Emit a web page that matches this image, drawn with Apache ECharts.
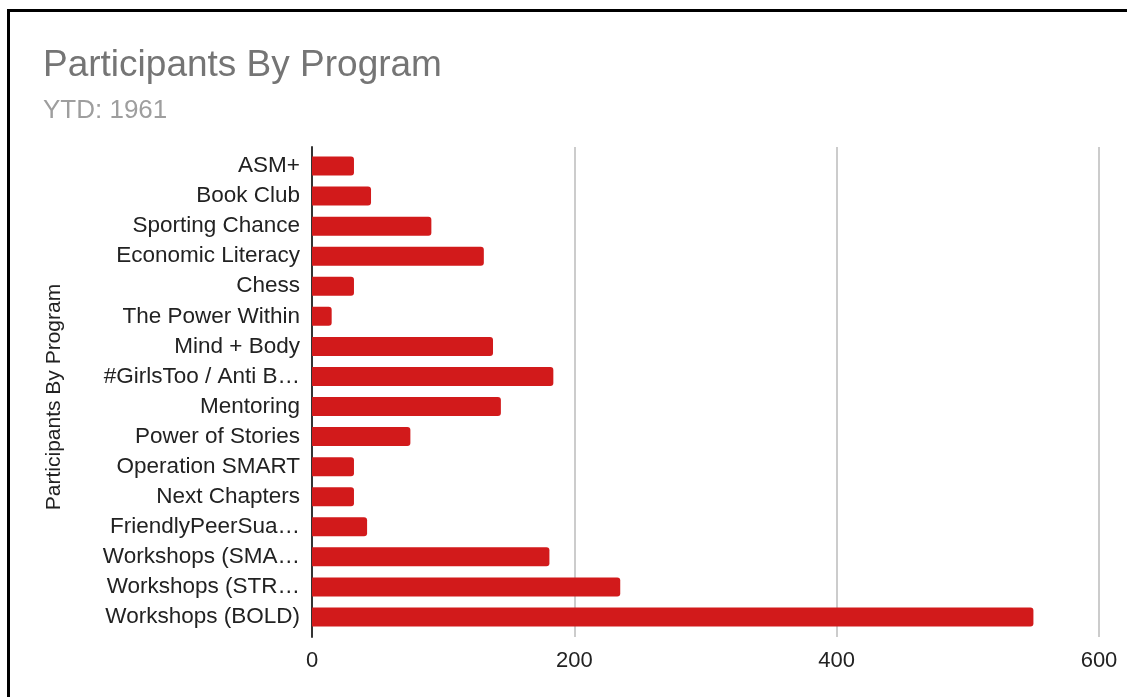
<!DOCTYPE html>
<html>
<head>
<meta charset="utf-8">
<script src="https://cdn.jsdelivr.net/npm/echarts@6/dist/echarts.min.js"></script>
<style>
  html, body { margin: 0; padding: 0; background: #fff; overflow: hidden; }
  #frame { position: absolute; left: 7px; top: 9px; width: 1140px; height: 720px;
           border: 3px solid #000; box-sizing: border-box; }
  #chart { position: absolute; left: 0; top: 0; width: 1127px; height: 697px; }
</style>
</head>
<body>
<div id="frame"></div>
<div id="chart"></div>
<script>
// Programs, top to bottom
const categories = [
  'ASM+', 'Book Club', 'Sporting Chance', 'Economic Literacy', 'Chess',
  'The Power Within', 'Mind + Body', '#GirlsToo / Anti B\u2026', 'Mentoring',
  'Power of Stories', 'Operation SMART', 'Next Chapters', 'FriendlyPeerSua\u2026',
  'Workshops (SMA\u2026', 'Workshops (STR\u2026', 'Workshops (BOLD)'
];
// Participants per program
const participants = [32, 45, 91, 131, 32, 15, 138, 184, 144, 75, 32, 32, 42, 181, 235, 550];
// Value axis ticks
const xTicks = [0, 200, 400, 600];

const titleText = 'Participants By Program';
const subtitleText = 'YTD: 1961';
const axisTitle = 'Participants By Program';

const FONT = 'Arial, "Liberation Sans", sans-serif';
const xMin = xTicks[0], xMax = xTicks[xTicks.length - 1], xStep = xTicks[1] - xTicks[0];

const chart = echarts.init(document.getElementById('chart'), null, { renderer: 'canvas' });
chart.setOption({
  animation: false,
  backgroundColor: 'transparent',
  title: [
    { text: titleText, left: 43, top: 47, padding: 0,
      textStyle: { fontFamily: FONT, fontSize: 37, fontWeight: 'normal', color: '#757575' } },
    { text: subtitleText, left: 43, top: 98, padding: 0,
      textStyle: { fontFamily: FONT, fontSize: 26, fontWeight: 'normal', color: '#9e9e9e' } }
  ],
  graphic: [{
    type: 'text', x: 54, y: 397, rotation: Math.PI / 2,
    style: { text: axisTitle, font: '21px ' + FONT, fill: '#222',
             align: 'center', verticalAlign: 'middle' }
  }],
  grid: [
    // bars
    { left: 312, right: 28, top: 151, height: 481 },
    // frame: gridlines, baseline, tick labels
    { left: 312, right: 28, top: 147, height: 490 }
  ],
  xAxis: [
    { gridIndex: 0, type: 'value', min: xMin, max: xMax, interval: xStep, show: false },
    { gridIndex: 1, type: 'value', min: xMin, max: xMax, interval: xStep,
      axisLine: { show: false }, axisTick: { show: false },
      axisLabel: { fontFamily: FONT, fontSize: 22, color: '#222', margin: 13 },
      splitLine: { show: true, lineStyle: { color: '#cccccc', width: 2 } } }
  ],
  yAxis: [
    { gridIndex: 0, type: 'category', data: categories, inverse: true,
      axisLine: { show: false }, axisTick: { show: false },
      axisLabel: { fontFamily: FONT, fontSize: 22.5, color: '#222', margin: 12 } },
    { gridIndex: 1, type: 'value', min: 0, max: 1,
      axisLine: { show: true, lineStyle: { color: '#333', width: 2 } },
      axisTick: { show: false }, axisLabel: { show: false }, splitLine: { show: false } }
  ],
  series: [{
    type: 'bar', xAxisIndex: 0, yAxisIndex: 0,
    data: participants,
    barWidth: 19,
    itemStyle: { color: '#d21a1b', borderRadius: [0, 3, 3, 0] }
  }]
});
</script>
</body>
</html>
